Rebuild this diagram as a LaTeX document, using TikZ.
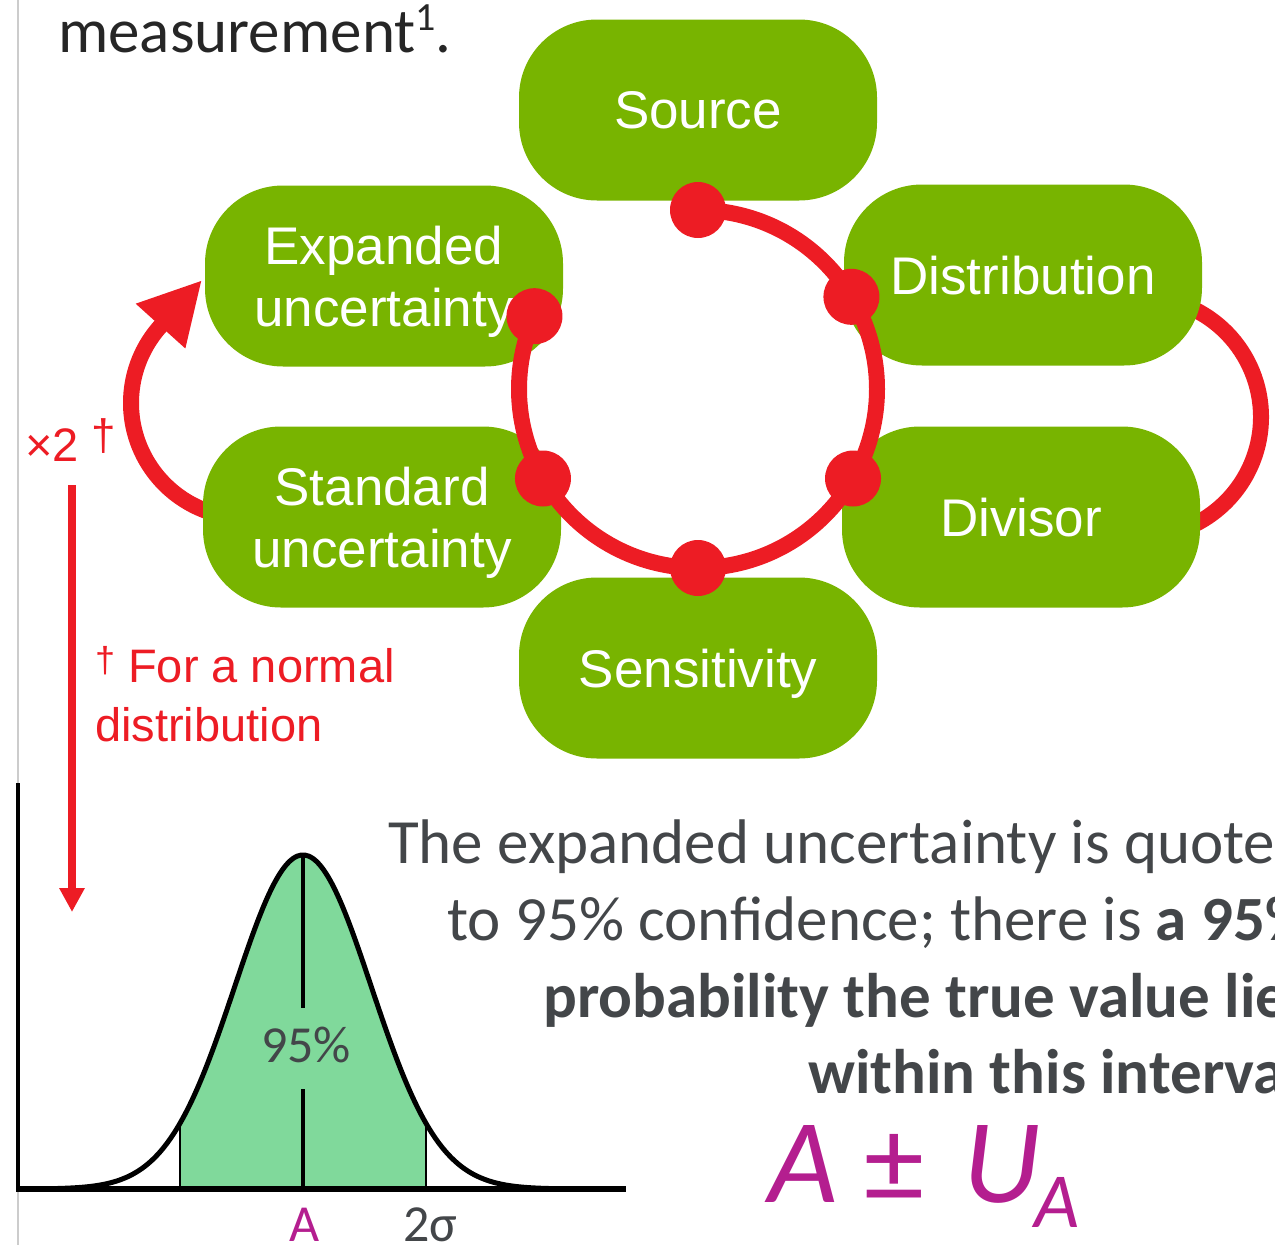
\documentclass[tikz,border=0pt]{standalone}
\usepackage{fontspec}
\setmainfont{Carlito}
\newfontfamily\arialf{Liberation Sans}
\usetikzlibrary{arrows.meta}
\definecolor{boxgreen}{RGB}{120,180,0}
\definecolor{myred}{RGB}{237,28,36}
\definecolor{bellgreen}{RGB}{128,217,155}
\definecolor{mypurple}{RGB}{180,30,143}
\definecolor{txtgray}{RGB}{67,70,73}
\definecolor{nearblack}{RGB}{38,38,38}
\newcommand{\dagsup}[2]{\raisebox{#1}{\fontsize{#2}{#2}\selectfont †}}
\begin{document}
\begin{tikzpicture}[x=1pt,y=-1pt,
  gbox/.style={fill=boxgreen, rounded corners=78pt, minimum width=358pt, minimum height=181pt,
    inner sep=0pt, text=white, font=\arialf\fontsize{53}{62}\selectfont, align=center, text depth=0pt},
  redline/.style={draw=myred, line width=16pt},
  dot/.style={circle, fill=myred, minimum size=56pt, inner sep=0pt},
  bigtxt/.style={anchor=base west, text=txtgray, font=\fontsize{63}{77}\selectfont, inner sep=0pt},
  redtxt/.style={anchor=base west, text=myred, font=\arialf\fontsize{47}{59}\selectfont, inner sep=0pt},
  smalltxt/.style={text=txtgray, font=\fontsize{52}{60}\selectfont, inner sep=0pt}]
\useasboundingbox (0,0) rectangle (1275,1245);
\clip (0,0) rectangle (1275,1245);

% slide border
\draw[gray!40, line width=1.5pt] (18,0) -- (18,1245);

% anchors for the arcs
\coordinate (ringc) at (698,389);
\coordinate (rarc) at (1141,417);
\coordinate (larc) at (246,403);
\coordinate (vtop) at (72,485);
\coordinate (vbot) at (72,912);

% arcs behind boxes
\draw[redline] ([shift={(-70:120)}]rarc) arc[start angle=-70, end angle=70, radius=120];
\draw[redline, -{Triangle[length=62pt,width=62pt]}]
  ([shift={(108:115)}]larc) arc[start angle=108, end angle=222, radius=115] -- ++(41.5,-46);

% boxes
\node[gbox] (src)  at (698,110) {Source};
\node[gbox] (expu) at (384,276) {Expanded\\uncertainty};
\node[gbox] (dist) at (1023,275) {Distribution};
\node[gbox] (stdu) at (382,517) {Standard\\uncertainty};
\node[gbox] (divr) at (1021,517) {Divisor};
\node[gbox] (sens) at (698,668) {Sensitivity};

% ring
\draw[redline] ([shift={(-90:179)}]ringc) arc[start angle=-90, end angle=204, radius=179];
\node[dot] (d1) at ([shift={(-90:179)}]ringc) {};
\node[dot] (d2) at ([shift={(-31:179)}]ringc) {};
\node[dot] (d3) at ([shift={(30:179)}]ringc) {};
\node[dot] (d4) at ([shift={(90:179)}]ringc) {};
\node[dot] (d5) at ([shift={(150:179)}]ringc) {};
\node[dot] (d6) at ([shift={(204:179)}]ringc) {};

% vertical arrow
\draw[myred, line width=8pt, -{Triangle[length=24pt,width=24pt]}] (vtop) -- (vbot);

% red texts
\node[redtxt] (times) at (25,461) {×2 \dagsup{11pt}{44}};
\node[redtxt] (note1) at (95,682) {\dagsup{10pt}{36} For a normal};
\node[redtxt] (note2) at (95,741) {distribution};

% title fragment
\node[anchor=base west, text=nearblack, font=\fontsize{63}{77}\selectfont, inner sep=0pt] (meas) at (58,52)
  {measurement\raisebox{22pt}{\fontsize{40}{40}\selectfont 1}.};

% bell curve
\fill[bellgreen] (180,1189) -- plot[domain=-1.8035:1.8035, samples=60] ({303+68.2*\x},{1189-334*exp(-0.5*(\x)*(\x))}) -- (426,1189) -- cycle;
\draw[line width=5pt, line join=round] plot[domain=-3.9:3.9, samples=140, smooth] ({303+68.2*\x},{1189-334*exp(-0.5*(\x)*(\x))});
\draw[line width=2.5pt] (180,1123) -- (180,1189);
\draw[line width=2.5pt] (426,1123) -- (426,1189);
\draw[line width=4pt] (303,855) -- (303,1008);
\draw[line width=4pt] (303,1089) -- (303,1189);
\draw[line width=4pt] (18,783) -- (18,1192);
\draw[line width=6pt] (16,1189) -- (626,1189);
\node[smalltxt] (pct) at (306,1045) {95\%};
\node[smalltxt, anchor=base, text=mypurple] (alab) at (305,1241) {A};
\node[smalltxt, anchor=base] (slab) at (430,1241) {2σ};

% explanation
\node[bigtxt] (l1) at (388,863) {The expanded uncertainty is quoted};
\node[bigtxt] (l2) at (447,940) {to 95\% confidence; there is \textbf{a 95\%}};
\node[bigtxt] (l3) at (543,1017) {\textbf{probability the true value lies}};
\node[bigtxt] (l4) at (808,1093) {\textbf{within this interval}};

% formula
\node[anchor=base west, text=mypurple, font=\fontsize{120}{130}\selectfont, inner sep=0pt] (form) at (768,1202)
  {\textit{A} ± \kern12pt\textit{U}\kern-6pt\raisebox{-25pt}{\fontsize{78}{80}\selectfont\textit{A}}};
\end{tikzpicture}
\end{document}
